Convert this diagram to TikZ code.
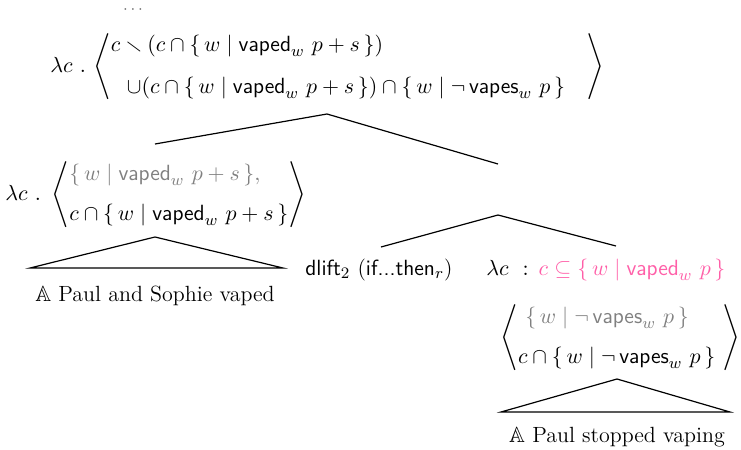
\documentclass[tikz,border=0pt]{standalone}
\usepackage{amssymb}
\usepackage{xcolor}
\definecolor{prespink}{HTML}{FF5FA8}
\definecolor{altgray}{gray}{0.5}
\newcommand{\vaped}{\textsf{vaped}}
\newcommand{\vapes}{\textsf{vapes}}
\newcommand{\wset}[1]{\{\,w\mid #1\,\}}
\tikzset{
  treenode/.style={inner sep=0pt, font=\fontsize{11}{13}\selectfont},
  branch/.style={line width=0.6pt}
}

\begin{document}
\begin{tikzpicture}[x=0.5pt,y=-0.5pt]
    \useasboundingbox (0,0) rectangle (741,450);
    \node[treenode,text=altgray!80!black] at (133,10) (dots) {\footnotesize$\cdots$};
    \node[treenode,anchor=west] at (50,67) (top) {$\lambda c\ .\,\left\langle\begin{array}{@{}l@{}}
        c\smallsetminus(c\cap\wset{\vaped_w\ p+s})\\[8pt]
        \hspace{8pt}\cup(c\cap\wset{\vaped_w\ p+s})\cap\wset{\neg\,\vapes_w\ p}\ \ \ \end{array}\right\rangle$};
    \coordinate (topL) at (155,144);
    \coordinate (topapex) at (327,114);
    \coordinate (topR) at (498,164);
    \draw[branch] (topL) -- (topapex) -- (topR);
    \node[treenode,anchor=west] at (5,195) (ante) {$\lambda c\ .\ \left\langle\begin{array}{@{}l@{}}
        \color{altgray}\wset{\vaped_w\ p+s},\\[7pt]
        c\cap\wset{\vaped_w\ p+s}\end{array}\right\rangle$};
    \coordinate (anteapex) at (155,237);
    \coordinate (anteL) at (30,268);
    \coordinate (anteR) at (283,268);
    \draw[branch] (anteL) -- (anteapex) -- (anteR) -- cycle;
    \node[treenode] at (155,296) (antetext) {$\mathbb{A}$ Paul and Sophie vaped};
    \coordinate (condapex) at (498,215);
    \coordinate (condL) at (381,247);
    \coordinate (condR) at (616,246);
    \draw[branch] (condL) -- (condapex) -- (condR);
    \node[treenode,anchor=west] at (305,270) (dlift) {\textsf{dlift}$_2$ (\textsf{if...then}$_r$)};
    \node[treenode,anchor=west] at (486,270) (presup) {$\lambda c\hspace{7pt}{:}\hspace{5pt}\color{prespink}c\subseteq\wset{\vaped_w\ p}$};
    \node[treenode,anchor=west] at (500,338) (cons) {$\left\langle\begin{array}{@{}l@{}}
        \color{altgray}\ \wset{\neg\,\vapes_w\ p}\\[7pt]
        c\cap\wset{\neg\,\vapes_w\ p}\ \end{array}\right\rangle$};
    \coordinate (consapex) at (617,379);
    \coordinate (consL) at (501,412);
    \coordinate (consR) at (730,412);
    \draw[branch] (consL) -- (consapex) -- (consR) -- cycle;
    \node[treenode] at (617,437) (constext) {$\mathbb{A}$ Paul stopped vaping};
\end{tikzpicture}
\end{document}
